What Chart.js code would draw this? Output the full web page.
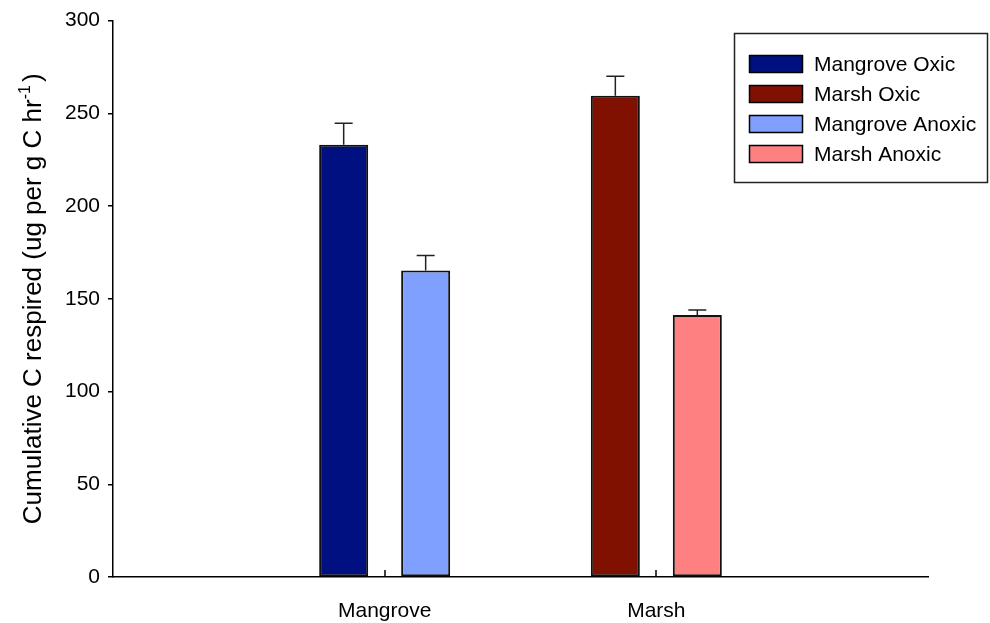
<!DOCTYPE html>
<html>
<head>
<meta charset="utf-8">
<script src="https://cdn.jsdelivr.net/npm/chart.js@4.4.0/dist/chart.umd.min.js"></script>
<style>
  html, body { margin: 0; padding: 0; background: #fff; }
  #wrap { width: 990px; height: 623px; }
</style>
</head>
<body>
<div id="wrap"><canvas id="c" width="990" height="623"></canvas></div>
<script>
// Category slots: empty slots at both ends keep the two sites at 1/3 and 2/3 of the axis
const categories = ['', 'Mangrove', 'Marsh', ''];
const seriesNames = ['Mangrove Oxic', 'Marsh Oxic', 'Mangrove Anoxic', 'Marsh Anoxic'];

// Cumulative C respired per treatment
const mangroveOxic   = [null, 233.0, null, null];
const marshOxic      = [null, null, 259.5, null];
const mangroveAnoxic = [null, 165.2, null, null];
const marshAnoxic    = [null, null, 141.2, null];

// Standard errors (upper whisker only)
const mangroveOxicErr   = [null, 11.6, null, null];
const marshOxicErr      = [null, null, 10.5, null];
const mangroveAnoxicErr = [null, 8.2, null, null];
const marshAnoxicErr    = [null, null, 2.8, null];

const yTicks = [0, 50, 100, 150, 200, 250, 300];
const yTitle = 'Cumulative C respired (ug per g C hr';
const yTitleSup = '-1';
const yTitleEnd = ')';

const seriesColors = ['#001080', '#801000', '#80A0FF', '#FF8080'];
const FONT = '"Liberation Sans", Arial, sans-serif';

const seriesValues = [mangroveOxic, marshOxic, mangroveAnoxic, marshAnoxic];
const seriesErrors = [mangroveOxicErr, marshOxicErr, mangroveAnoxicErr, marshAnoxicErr];

// Upper error whiskers with a cap
const errorBarPlugin = {
  id: 'errorBars',
  afterDatasetsDraw(chart) {
    const ctx = chart.ctx;
    const y = chart.scales.y;
    ctx.save();
    ctx.strokeStyle = '#222';
    ctx.lineWidth = 1.5;
    chart.data.datasets.forEach((ds, di) => {
      const meta = chart.getDatasetMeta(di);
      meta.data.forEach((el, i) => {
        const v = ds.data[i];
        const e = ds.errors[i];
        if (v == null || e == null) return;
        const top = y.getPixelForValue(v + e);
        ctx.beginPath();
        ctx.moveTo(el.x, el.y);
        ctx.lineTo(el.x, top);
        ctx.moveTo(el.x - 9, top);
        ctx.lineTo(el.x + 9, top);
        ctx.stroke();
      });
    });
    ctx.restore();
  }
};

// Short inward tick marks at the labelled categories
const xTickPlugin = {
  id: 'xTicksInward',
  afterDraw(chart) {
    const ctx = chart.ctx;
    const x = chart.scales.x;
    const bottom = chart.chartArea.bottom;
    ctx.save();
    ctx.strokeStyle = '#000';
    ctx.lineWidth = 1.5;
    categories.forEach((label, i) => {
      if (!label) return;
      const px = Math.round(x.getPixelForTick(i));
      ctx.beginPath();
      ctx.moveTo(px, bottom);
      ctx.lineTo(px, bottom - 7);
      ctx.stroke();
    });
    ctx.restore();
  }
};

// Framed legend in the upper right
const boxedLegendPlugin = {
  id: 'boxedLegend',
  afterDraw(chart) {
    const ctx = chart.ctx;
    ctx.save();
    ctx.strokeStyle = '#222';
    ctx.lineWidth = 1.5;
    ctx.strokeRect(734.5, 33.5, 253, 149);
    ctx.font = '21px ' + FONT;
    ctx.textBaseline = 'middle';
    ctx.textAlign = 'left';
    chart.data.datasets.forEach((ds, i) => {
      const cy = 64 + i * 30;
      ctx.fillStyle = ds.backgroundColor;
      ctx.fillRect(749.5, cy - 8.5, 53, 17);
      ctx.strokeStyle = '#000';
      ctx.strokeRect(749.5, cy - 8.5, 53, 17);
      ctx.fillStyle = '#000';
      ctx.fillText(ds.label, 814, cy + 1);
    });
    ctx.restore();
  }
};

// Rotated y-axis title with a superscript exponent
const yTitlePlugin = {
  id: 'yTitle',
  afterDraw(chart) {
    const ctx = chart.ctx;
    const area = chart.chartArea;
    const main = '26px ' + FONT;
    const small = '16px ' + FONT;
    ctx.save();
    ctx.font = main;
    const w1 = ctx.measureText(yTitle).width;
    const w3 = ctx.measureText(yTitleEnd).width;
    ctx.font = small;
    const w2 = ctx.measureText(yTitleSup).width;
    const total = w1 + w2 + 3 + w3;
    ctx.translate(41, (area.top + area.bottom) / 2);
    ctx.rotate(-Math.PI / 2);
    ctx.fillStyle = '#000';
    ctx.textBaseline = 'alphabetic';
    ctx.textAlign = 'left';
    let x0 = -total / 2;
    ctx.font = main;
    ctx.fillText(yTitle, x0, 0);
    x0 += w1;
    ctx.font = small;
    ctx.fillText(yTitleSup, x0, -11);
    x0 += w2 + 3;
    ctx.font = main;
    ctx.fillText(yTitleEnd, x0, 0);
    ctx.restore();
  }
};

new Chart(document.getElementById('c'), {
  type: 'bar',
  data: {
    labels: categories,
    datasets: seriesNames.map((name, i) => ({
      label: name,
      data: seriesValues[i],
      errors: seriesErrors[i],
      backgroundColor: seriesColors[i],
      borderColor: '#111',
      borderWidth: 2,
      borderSkipped: false,
      categoryPercentage: 0.6036,
      barPercentage: 0.598
    }))
  },
  options: {
    responsive: false,
    animation: false,
    devicePixelRatio: 1,
    skipNull: true,
    layout: { padding: { top: 18, right: 62, bottom: 0, left: 0 } },
    plugins: {
      legend: { display: false },
      tooltip: { enabled: false }
    },
    scales: {
      x: {
        type: 'category',
        offset: false,
        grid: { display: false },
        border: { display: true, color: '#000', width: 1.5 },
        ticks: {
          color: '#000',
          font: { family: FONT, size: 21 },
          padding: 14,
          maxRotation: 0,
          autoSkip: false
        },
        afterFit(s) { s.height = 46; }
      },
      y: {
        min: 0,
        max: 300,
        afterBuildTicks(s) { s.ticks = yTicks.map(v => ({ value: v })); },
        grid: {
          drawOnChartArea: false,
          drawTicks: true,
          tickLength: 5,
          color: '#000',
          lineWidth: 1.5
        },
        border: { display: true, color: '#000', width: 1.5 },
        ticks: {
          color: '#000',
          font: { family: FONT, size: 21 },
          padding: 8
        },
        afterFit(s) { s.width = 113; }
      }
    }
  },
  plugins: [errorBarPlugin, xTickPlugin, boxedLegendPlugin, yTitlePlugin]
});
</script>
</body>
</html>
